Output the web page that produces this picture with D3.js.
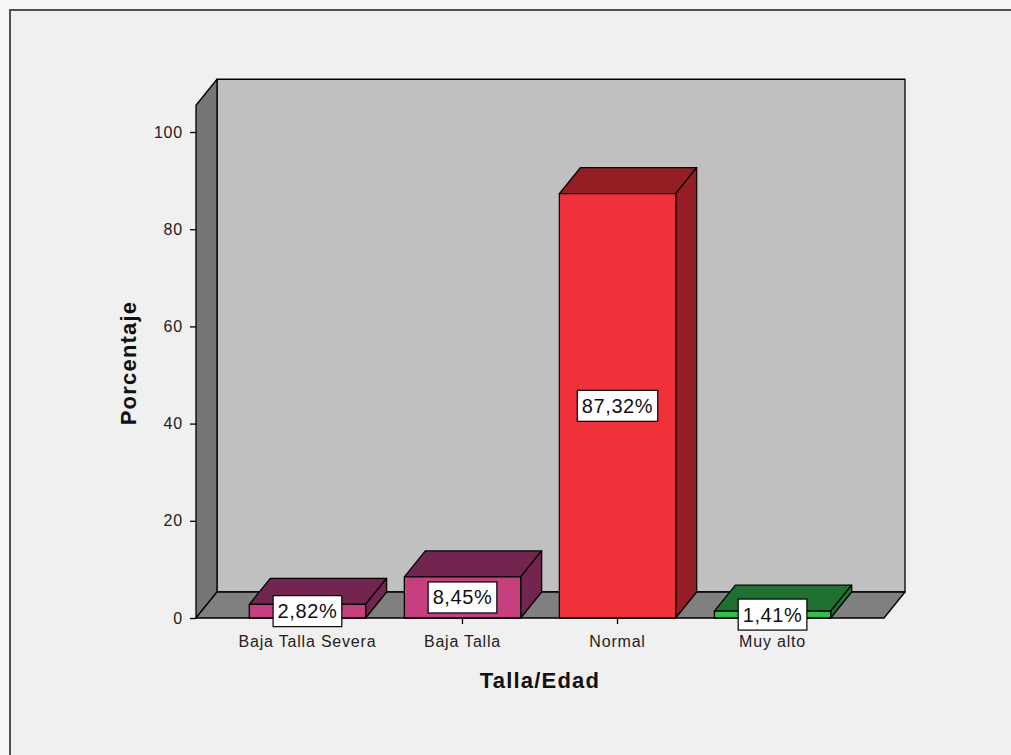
<!DOCTYPE html>
<html>
<head>
<meta charset="utf-8">
<script src="https://cdn.jsdelivr.net/npm/d3@7"></script>
<style>
  html, body { margin: 0; padding: 0; background: #f7f7f7; }
  svg { display: block; }
  text { font-family: Arial, "Liberation Sans", sans-serif; }
</style>
</head>
<body>
<script>
// Talla/Edad distribution (percent)
const categories = ["Baja Talla Severa", "Baja Talla", "Normal", "Muy alto"];
const percentages = [2.82, 8.45, 87.32, 1.41];
const valueLabels = ["2,82%", "8,45%", "87,32%", "1,41%"];
const yTicks = [0, 20, 40, 60, 80, 100];

const frontColors = ["#c6407f", "#c6407f", "#f0313a", "#2fbf4b"];
const depthColors = ["#72264f", "#72264f", "#951d24", "#207030"];

const W = 1011, H = 755;
const svg = d3.select("body").append("svg").attr("width", W).attr("height", H);

// panel frame
svg.append("rect").attr("x", 10).attr("y", 10).attr("width", W).attr("height", H)
  .attr("fill", "#f0f0f0").attr("stroke", "#505050").attr("stroke-width", 2);

// 3D geometry
const dx = 21, dy = -26;
const x0 = 196, x1 = 884;
const y = d3.scaleLinear().domain([0, 100]).range([618, 132]);
const wallTop = y(105.5);
const x = d3.scaleBand().domain(categories).range([x0, x1])
  .paddingInner(0.25).paddingOuter(0.344);

const pts = a => a.map(p => p.join(",")).join(" ");
function poly(points, fill) {
  return svg.append("polygon").attr("points", pts(points)).attr("fill", fill)
    .attr("stroke", "#000").attr("stroke-width", 1.3).attr("stroke-linejoin", "round");
}

// back wall
poly([[x0 + dx, wallTop + dy], [x1 + dx, wallTop + dy], [x1 + dx, y(0) + dy], [x0 + dx, y(0) + dy]], "#c0c0c0");
// left wall
poly([[x0, wallTop], [x0 + dx, wallTop + dy], [x0 + dx, y(0) + dy], [x0, y(0)]], "#767676");
// floor
poly([[x0, y(0)], [x0 + dx, y(0) + dy], [x1 + dx, y(0) + dy], [x1, y(0)]], "#808080");

const tickFont = sel => sel.attr("font-size", 16).attr("letter-spacing", 0.8).attr("fill", "#222")
  .attr("font-family", "Arial, 'Liberation Sans', sans-serif");

// y axis ticks
const yAxis = svg.append("g").attr("transform", `translate(${x0},0)`)
  .call(d3.axisLeft(y).tickValues(yTicks).tickSize(6).tickPadding(7).tickFormat(d3.format("d")));
yAxis.select(".domain").remove();
yAxis.selectAll(".tick line").attr("stroke", "#000").attr("stroke-width", 1.3);
yAxis.selectAll(".tick text").call(tickFont);

// x axis ticks and labels
const xAxis = svg.append("g").attr("transform", `translate(0,${y(0)})`)
  .call(d3.axisBottom(x).tickSize(6).tickPadding(12));
xAxis.select(".domain").remove();
xAxis.selectAll(".tick line").attr("stroke", "#000").attr("stroke-width", 1.3);
xAxis.selectAll(".tick text").call(tickFont);

// bars
percentages.forEach((v, i) => {
  const c = categories[i];
  const bx = x(c), bw = x.bandwidth();
  const top = y(v), base = y(0);
  // top face
  poly([[bx, top], [bx + dx, top + dy], [bx + bw + dx, top + dy], [bx + bw, top]], depthColors[i]);
  // right side face
  poly([[bx + bw, top], [bx + bw + dx, top + dy], [bx + bw + dx, base + dy], [bx + bw, base]], depthColors[i]);
  // front face
  poly([[bx, top], [bx + bw, top], [bx + bw, base], [bx, base]], frontColors[i]);
});

// value labels
percentages.forEach((v, i) => {
  const c = categories[i];
  const cx = x(c) + x.bandwidth() / 2;
  const cy = (y(v) + y(0)) / 2;
  const g = svg.append("g");
  const t = g.append("text").attr("x", cx).attr("y", cy).attr("text-anchor", "middle")
    .attr("dominant-baseline", "central").attr("font-size", 20).attr("letter-spacing", 0.6)
    .attr("fill", "#111").text(valueLabels[i]);
  const bb = t.node().getBBox();
  g.insert("rect", "text")
    .attr("x", cx - bb.width / 2 - 4.5).attr("y", cy - 15.5)
    .attr("width", bb.width + 9).attr("height", 31)
    .attr("fill", "#fff").attr("stroke", "#000").attr("stroke-width", 1.2);
});

// axis titles
svg.append("text").attr("transform", "translate(136,363) rotate(-90)")
  .attr("text-anchor", "middle").attr("font-size", 22).attr("font-weight", "bold")
  .attr("letter-spacing", 1.2).attr("fill", "#111").text("Porcentaje");
svg.append("text").attr("x", 540).attr("y", 688)
  .attr("text-anchor", "middle").attr("font-size", 22).attr("font-weight", "bold")
  .attr("letter-spacing", 1.2).attr("fill", "#111").text("Talla/Edad");
</script>
</body>
</html>
